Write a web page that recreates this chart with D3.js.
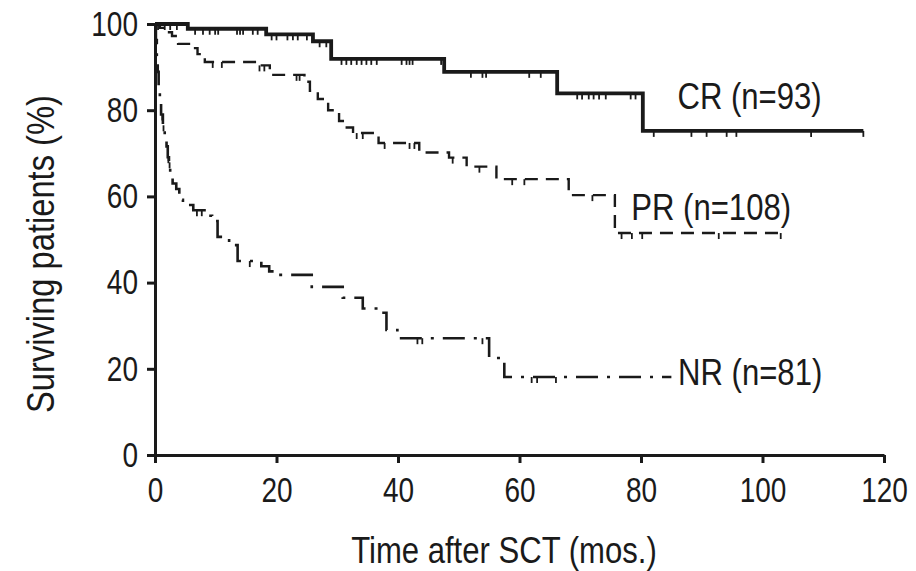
<!DOCTYPE html>
<html>
<head>
<meta charset="utf-8">
<script src="https://cdn.jsdelivr.net/npm/d3@7"></script>
<style>
  html, body { margin: 0; padding: 0; background: #fff; }
  svg text { font-family: "Liberation Sans", Arial, sans-serif; fill: #1a1a1a; }
</style>
</head>
<body>
<svg id="chart" width="916" height="571"></svg>
<script>
// ---- Data ----
const xTicks = [0, 20, 40, 60, 80, 100, 120];
const yTicks = [0, 20, 40, 60, 80, 100];

const crTimes = [0, 5.4, 18.3, 26.0, 29.0, 47.6, 66.2, 80.3];
const crSurv  = [100, 98.9, 97.6, 96.0, 91.9, 88.9, 83.9, 75.2];
const crEnd = 116.6;
const crCensor = [0.5, 1.6, 2.5, 3.6, 6.6, 7.9, 9.0, 9.9, 10.4, 13.5, 14.0, 14.5, 16.1, 16.9,
  19.2, 20.0, 21.8, 22.7, 23.5, 25.0, 27.1, 28.2, 30.7, 31.5, 32.3, 33.2, 34.0, 34.8, 35.6, 36.5,
  40.6, 41.4, 41.9, 42.4, 47.1, 52.0, 53.9, 54.5, 61.6, 63.5, 69.5, 70.3, 71.4, 72.2, 73.1, 74.2,
  78.3, 79.1, 82.1, 88.3, 90.8, 94.1, 95.7, 108.0, 116.6];

const prTimes = [0, 0.8, 1.6, 2.8, 3.8, 6.0, 7.0, 8.2, 17.0, 18.9, 24.6, 25.5, 26.8, 28.5, 30.3, 31.2, 32.6, 36.8, 43.5, 48.4, 51.3, 56.2, 68.1, 75.7];
const prSurv  = [100, 99.1, 98.1, 97.2, 95.4, 94.4, 93.0, 91.2, 90.4, 88.2, 86.6, 84.5, 82.6, 80.0, 77.5, 76.0, 74.7, 72.4, 70.2, 69.0, 66.9, 64.0, 60.3, 51.5];
const prEnd = 103.0;
const prCensor = [9.5, 11.0, 17.2, 18.0, 23.3, 23.8, 33.2, 34.2, 37.8, 41.9, 42.7, 49.0, 53.4,
  58.8, 60.8, 72.0, 76.8, 78.5, 80.2, 92.8, 103.0];

const nrTimes = [0, 0.15, 0.3, 0.45, 0.6, 0.8, 1.0, 1.3, 1.6, 1.9, 2.1, 2.3, 2.5, 2.9, 3.5, 4.0, 4.6, 6.3, 8.5, 9.4, 10.3, 12.2, 13.6, 17.5, 18.8, 19.8, 25.8, 30.9, 34.2, 36.8, 38.1, 39.9, 55.0, 57.5];
const nrSurv  = [100, 96.3, 92.6, 88.9, 85.2, 81.5, 79.0, 76.5, 74.0, 71.6, 69.1, 67.9, 65.4, 63.0, 61.7, 59.2, 58.0, 56.8, 55.5, 54.3, 50.6, 48.7, 45.0, 43.8, 42.6, 41.8, 39.0, 36.5, 34.0, 33.0, 29.0, 27.1, 22.5, 18.1];
const nrEnd = 85.0;
const nrCensor = [1.2, 1.4, 2.2, 2.4, 6.9, 7.7, 15.6, 43.2, 44.0, 53.9, 62.0, 62.9, 66.0];

const seriesNames = ["CR (n=93)", "PR (n=108)", "NR (n=81)"];

// ---- Layout ----
const svg = d3.select("#chart");
const mLeft = 155, mRight = 884, mTop = 24, mBottom = 455;
const x = d3.scaleLinear().domain([0, 120]).range([mLeft, mRight]);
const y = d3.scaleLinear().domain([0, 100]).range([mBottom, mTop]);

function condense(factor) {
  return sel => sel.each(function () {
    const w = this.getComputedTextLength();
    d3.select(this).attr("textLength", w * factor).attr("lengthAdjust", "spacingAndGlyphs");
  });
}
// horizontal squeeze for tick labels through a transform (keeps anchor position)
function squeezeTicks(sel, factor) {
  sel.each(function () {
    const t = d3.select(this);
    const x0 = +t.attr("x") || 0;
    t.attr("x", x0 / factor).attr("transform", `scale(${factor},1)`);
  });
}

// Axes
const xAxis = d3.axisBottom(x).tickValues(xTicks).tickSize(8).tickPadding(14).tickSizeOuter(0);
const yAxis = d3.axisLeft(y).tickValues(yTicks).tickSize(8).tickPadding(9).tickSizeOuter(0);

const gx = svg.append("g").attr("transform", `translate(0,${mBottom})`).call(xAxis);
const gy = svg.append("g").attr("transform", `translate(${mLeft},0)`).call(yAxis);
[gx, gy].forEach(g => {
  g.select(".domain").attr("stroke", "#1a1a1a").attr("stroke-width", 3);
  g.selectAll(".tick line").attr("stroke", "#1a1a1a").attr("stroke-width", 3);
  g.selectAll(".tick text").attr("font-size", 35).attr("font-family", "Liberation Sans, Arial, sans-serif").style("fill", "#1a1a1a");
  squeezeTicks(g.selectAll(".tick text"), 0.8);
});

// Axis titles
svg.append("text")
  .attr("x", 504).attr("y", 563)
  .attr("text-anchor", "middle").attr("font-size", 37)
  .text("Time after SCT (mos.)").call(condense(0.84));
svg.append("text")
  .attr("transform", `translate(54,254) rotate(-90)`)
  .attr("text-anchor", "middle").attr("font-size", 38)
  .text("Surviving patients (%)").call(condense(0.86));

// KM helpers
function stepPoints(times, surv, end) {
  const pts = times.map((t, i) => [t, surv[i]]);
  pts.push([end, surv[surv.length - 1]]);
  return pts;
}
function survAt(times, surv, t) {
  let v = surv[0];
  for (let i = 0; i < times.length; i++) if (times[i] <= t) v = surv[i];
  return v;
}
const line = d3.line().x(d => x(d[0])).y(d => y(d[1])).curve(d3.curveStepAfter);

const series = [
  { times: crTimes, surv: crSurv, end: crEnd, censor: crCensor, width: 3.8, dash: null },
  { times: prTimes, surv: prSurv, end: prEnd, censor: prCensor, width: 2.4, dash: "13,8" },
  { times: nrTimes, surv: nrSurv, end: nrEnd, censor: nrCensor, width: 2.6, dash: "22,9,3,9" }
];

series.forEach(s => {
  svg.append("path")
    .datum(stepPoints(s.times, s.surv, s.end))
    .attr("d", line)
    .attr("fill", "none")
    .attr("stroke", "#1a1a1a")
    .attr("stroke-width", s.width)
    .attr("stroke-dasharray", s.dash);
  svg.append("g").selectAll("line").data(s.censor).join("line")
    .attr("x1", d => x(d)).attr("x2", d => x(d))
    .attr("y1", d => y(survAt(s.times, s.surv, d)))
    .attr("y2", d => y(survAt(s.times, s.surv, d)) + 6)
    .attr("stroke", "#1a1a1a").attr("stroke-width", 1.8);
});

// Series labels
const labelPos = [[86.0, 109], [78.4, 220], [86.1, 385]];
svg.append("g").selectAll("text").data(seriesNames).join("text")
  .attr("x", (d, i) => x(labelPos[i][0]))
  .attr("y", (d, i) => labelPos[i][1])
  .attr("font-size", 37)
  .text(d => d)
  .call(condense(0.84));
</script>
</body>
</html>
